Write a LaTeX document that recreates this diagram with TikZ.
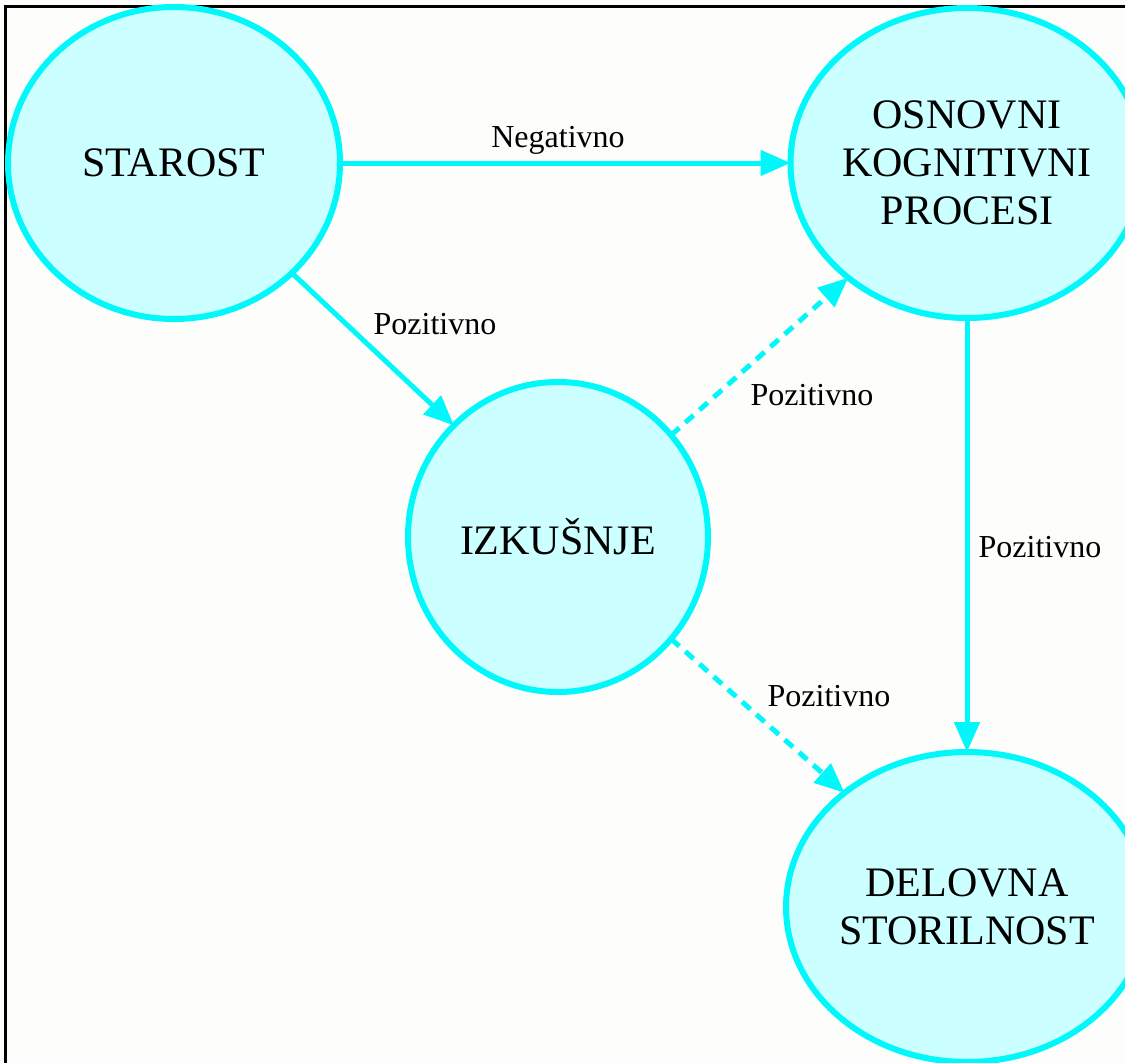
\documentclass[tikz,border=0pt]{standalone}
\usepackage{fontspec}
\setmainfont{Liberation Serif}
\usetikzlibrary{shapes.geometric,arrows.meta}
\definecolor{ring}{RGB}{0,248,250}
\definecolor{ringfill}{RGB}{204,255,255}
\definecolor{bg}{RGB}{253,253,251}
\tikzset{
  bubble/.style={ellipse, draw=ring, fill=ringfill, line width=6pt, inner sep=0pt, outer sep=0pt,
     align=center, font=\fontsize{42}{48}\selectfont, text=black},
  edge/.style={draw=ring, line width=5pt, -{Triangle[length=30pt,width=25pt]}},
  dashedge/.style={edge, dash pattern=on 11pt off 8pt},
  lbl/.style={font=\fontsize{32}{36}\selectfont, text=black, inner sep=1pt}
}
\begin{document}
\begin{tikzpicture}[x=1pt,y=-1pt]
\useasboundingbox (0,0) rectangle (1125,1063);
\fill[bg] (0,0) rectangle (1125,1063);
\draw[black, line width=3pt] (5,1063) -- (5,6) -- (1125,6);
\node[bubble, minimum width=332pt, minimum height=312pt] (star) at (174,163) {STAROST};
\node[bubble, minimum width=330pt, minimum height=310pt] (osn) at (967,163) {OSNOVNI\\KOGNITIVNI\\PROCESI};
\node[bubble, minimum width=300pt, minimum height=310pt] (izk) at (558,537) {IZKUŠNJE};
\node[bubble, minimum width=332pt, minimum height=310pt] (del) at (967,907) {DELOVNA\\STORILNOST};
\draw[edge] (star) -- (osn);
\draw[edge] (star.-43) -- (izk.133);
\draw[dashedge] (izk.42) -- (osn.224);
\draw[dashedge] (izk.-42) -- (del.137);
\draw[edge] (osn) -- (del);
\node[lbl] (l1) at (558,140) {Negativno};
\node[lbl] (l2) at (435,324) {Pozitivno};
\node[lbl] (l3) at (812,395) {Pozitivno};
\node[lbl] (l4) at (1040,547) {Pozitivno};
\node[lbl] (l5) at (829,696) {Pozitivno};
\end{tikzpicture}
\end{document}
